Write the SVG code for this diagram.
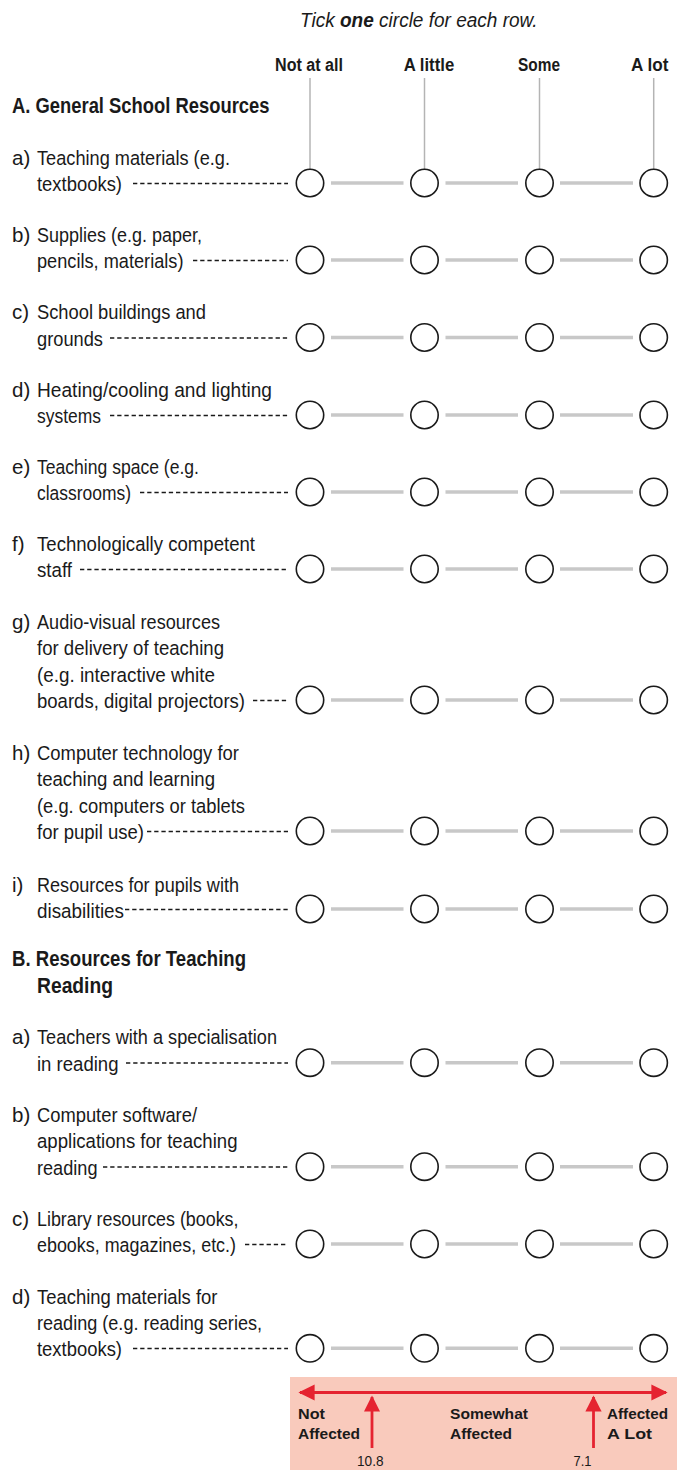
<svg xmlns="http://www.w3.org/2000/svg" width="677" height="1470" viewBox="0 0 677 1470">
<style>
text{font-family:"Liberation Sans",Arial,sans-serif;fill:#1a1a1a}
.t{font-size:20.5px}
.h{font-size:22.5px;font-weight:bold}
.col{font-size:17.5px;font-weight:bold}
.ttl{font-size:19.5px;font-style:italic}
.c{fill:#fff;stroke:#1a1a1a;stroke-width:1.6}
.g{stroke:#c8c8c8;stroke-width:3.5}
.v{stroke:#b4b4b4;stroke-width:1.5}
.d{stroke:#1a1a1a;stroke-width:1.5;stroke-dasharray:4.3 2.9}
.red{stroke:#e52330;stroke-width:2.8;fill:none}
.lab{font-size:15px;font-weight:bold}
.num{font-size:14.5px}
</style>
<defs>
<marker id="ah" viewBox="0 0 10 10" refX="9" refY="5" markerWidth="5.8" markerHeight="5.8" orient="auto-start-reverse" markerUnits="strokeWidth">
<path d="M0,0 L10,5 L0,10 Z" fill="#e52330"/>
</marker>
<g id="scale">
<line class="g" x1="331" y1="0" x2="403.5" y2="0"/>
<line class="g" x1="445.5" y1="0" x2="518" y2="0"/>
<line class="g" x1="560" y1="0" x2="633" y2="0"/>
<circle class="c" cx="310" cy="0" r="13.7"/>
<circle class="c" cx="424.5" cy="0" r="13.7"/>
<circle class="c" cx="539.5" cy="0" r="13.7"/>
<circle class="c" cx="653.7" cy="0" r="13.7"/>
</g>
</defs>

<g id="header">
<text class="ttl" x="300" y="27" textLength="237.6" lengthAdjust="spacingAndGlyphs">Tick <tspan font-weight="bold">one</tspan> circle for each row.</text>
<text class="col" x="275" y="71" textLength="68" lengthAdjust="spacingAndGlyphs">Not at all</text>
<text class="col" x="403.7" y="71" textLength="50.5" lengthAdjust="spacingAndGlyphs">A little</text>
<text class="col" x="518" y="71" textLength="42" lengthAdjust="spacingAndGlyphs">Some</text>
<text class="col" x="631" y="71" textLength="37.4" lengthAdjust="spacingAndGlyphs">A lot</text>
<line class="v" x1="310" y1="78" x2="310" y2="169"/>
<line class="v" x1="424.5" y1="78" x2="424.5" y2="169"/>
<line class="v" x1="539.5" y1="78" x2="539.5" y2="169"/>
<line class="v" x1="653.7" y1="78" x2="653.7" y2="169"/>
</g>

<g id="sectionA"><text class="h" x="12" y="112.5" textLength="257.5" lengthAdjust="spacingAndGlyphs">A. General School Resources</text></g>

<g id="rowA-a">
<text class="t" x="12" y="164.7">a)</text>
<text class="t" x="37" y="164.7" textLength="193" lengthAdjust="spacingAndGlyphs">Teaching materials (e.g.</text>
<text class="t" x="37" y="191" textLength="85" lengthAdjust="spacingAndGlyphs">textbooks)</text>
<line class="d" x1="133" y1="183.5" x2="288" y2="183.5"/>
<use href="#scale" y="183"/>
</g>
<g id="rowA-b">
<text class="t" x="12" y="241.7">b)</text>
<text class="t" x="37" y="241.7" textLength="165" lengthAdjust="spacingAndGlyphs">Supplies (e.g. paper,</text>
<text class="t" x="37" y="268" textLength="146.5" lengthAdjust="spacingAndGlyphs">pencils, materials)</text>
<line class="d" x1="193" y1="260.5" x2="288" y2="260.5"/>
<use href="#scale" y="260"/>
</g>
<g id="rowA-c">
<text class="t" x="12" y="319.2">c)</text>
<text class="t" x="37" y="319.2" textLength="169" lengthAdjust="spacingAndGlyphs">School buildings and</text>
<text class="t" x="37" y="345.5" textLength="66" lengthAdjust="spacingAndGlyphs">grounds</text>
<line class="d" x1="110" y1="338" x2="288" y2="338"/>
<use href="#scale" y="337.5"/>
</g>
<g id="rowA-d">
<text class="t" x="12" y="396.7">d)</text>
<text class="t" x="37" y="396.7" textLength="235" lengthAdjust="spacingAndGlyphs">Heating/cooling and lighting</text>
<text class="t" x="37" y="423" textLength="64" lengthAdjust="spacingAndGlyphs">systems</text>
<line class="d" x1="110" y1="415.5" x2="288" y2="415.5"/>
<use href="#scale" y="415"/>
</g>
<g id="rowA-e">
<text class="t" x="12" y="473.7">e)</text>
<text class="t" x="37" y="473.7" textLength="162" lengthAdjust="spacingAndGlyphs">Teaching space (e.g.</text>
<text class="t" x="37" y="500" textLength="94" lengthAdjust="spacingAndGlyphs">classrooms)</text>
<line class="d" x1="140" y1="492.5" x2="288" y2="492.5"/>
<use href="#scale" y="492"/>
</g>
<g id="rowA-f">
<text class="t" x="12" y="550.7">f)</text>
<text class="t" x="37" y="550.7" textLength="218" lengthAdjust="spacingAndGlyphs">Technologically competent</text>
<text class="t" x="37" y="577" textLength="35" lengthAdjust="spacingAndGlyphs">staff</text>
<line class="d" x1="80" y1="569.5" x2="288" y2="569.5"/>
<use href="#scale" y="569"/>
</g>
<g id="rowA-g">
<text class="t" x="12" y="628.5">g)</text>
<text class="t" x="37" y="628.5" textLength="183" lengthAdjust="spacingAndGlyphs">Audio-visual resources</text>
<text class="t" x="37" y="655" textLength="187" lengthAdjust="spacingAndGlyphs">for delivery of teaching</text>
<text class="t" x="37" y="681.5" textLength="178" lengthAdjust="spacingAndGlyphs">(e.g. interactive white</text>
<text class="t" x="37" y="708" textLength="208" lengthAdjust="spacingAndGlyphs">boards, digital projectors)</text>
<line class="d" x1="253" y1="700.5" x2="288" y2="700.5"/>
<use href="#scale" y="700"/>
</g>
<g id="rowA-h">
<text class="t" x="12" y="759.5">h)</text>
<text class="t" x="37" y="759.5" textLength="202" lengthAdjust="spacingAndGlyphs">Computer technology for</text>
<text class="t" x="37" y="786" textLength="178" lengthAdjust="spacingAndGlyphs">teaching and learning</text>
<text class="t" x="37" y="812.5" textLength="208" lengthAdjust="spacingAndGlyphs">(e.g. computers or tablets</text>
<text class="t" x="37" y="839" textLength="107" lengthAdjust="spacingAndGlyphs">for pupil use)</text>
<line class="d" x1="147" y1="831.5" x2="288" y2="831.5"/>
<use href="#scale" y="831"/>
</g>
<g id="rowA-i">
<text class="t" x="12" y="891.7">i)</text>
<text class="t" x="37" y="891.7" textLength="202" lengthAdjust="spacingAndGlyphs">Resources for pupils with</text>
<text class="t" x="37" y="918" textLength="87" lengthAdjust="spacingAndGlyphs">disabilities</text>
<line class="d" x1="125" y1="909.5" x2="288" y2="909.5"/>
<use href="#scale" y="909"/>
</g>

<g id="sectionB">
<text class="h" x="12" y="966" textLength="234" lengthAdjust="spacingAndGlyphs">B. Resources for Teaching</text>
<text class="h" x="37" y="993" textLength="76" lengthAdjust="spacingAndGlyphs">Reading</text>
</g>

<g id="rowB-a">
<text class="t" x="12" y="1044.4">a)</text>
<text class="t" x="37" y="1044.4" textLength="240" lengthAdjust="spacingAndGlyphs">Teachers with a specialisation</text>
<text class="t" x="37" y="1070.7" textLength="81.5" lengthAdjust="spacingAndGlyphs">in reading</text>
<line class="d" x1="126" y1="1063" x2="288" y2="1063"/>
<use href="#scale" y="1062.7"/>
</g>
<g id="rowB-b">
<text class="t" x="12" y="1122">b)</text>
<text class="t" x="37" y="1122" textLength="160" lengthAdjust="spacingAndGlyphs">Computer software/</text>
<text class="t" x="37" y="1148.3" textLength="200.5" lengthAdjust="spacingAndGlyphs">applications for teaching</text>
<text class="t" x="37" y="1174.7" textLength="60.5" lengthAdjust="spacingAndGlyphs">reading</text>
<line class="d" x1="103" y1="1167" x2="288" y2="1167"/>
<use href="#scale" y="1166.7"/>
</g>
<g id="rowB-c">
<text class="t" x="12" y="1225.7">c)</text>
<text class="t" x="37" y="1225.7" textLength="201.5" lengthAdjust="spacingAndGlyphs">Library resources (books,</text>
<text class="t" x="37" y="1252" textLength="199" lengthAdjust="spacingAndGlyphs">ebooks, magazines, etc.)</text>
<line class="d" x1="245" y1="1244.5" x2="288" y2="1244.5"/>
<use href="#scale" y="1244"/>
</g>
<g id="rowB-d">
<text class="t" x="12" y="1303.7">d)</text>
<text class="t" x="37" y="1303.7" textLength="180.5" lengthAdjust="spacingAndGlyphs">Teaching materials for</text>
<text class="t" x="37" y="1330" textLength="225" lengthAdjust="spacingAndGlyphs">reading (e.g. reading series,</text>
<text class="t" x="37" y="1356.3" textLength="85" lengthAdjust="spacingAndGlyphs">textbooks)</text>
<line class="d" x1="133" y1="1348.5" x2="288" y2="1348.5"/>
<use href="#scale" y="1348.3"/>
</g>

<g id="legend">
<rect x="290" y="1377" width="387" height="93" fill="#f9cabc"/>
<line class="red" x1="300" y1="1392.5" x2="666" y2="1392.5" marker-start="url(#ah)" marker-end="url(#ah)"/>
<line class="red" x1="372" y1="1448" x2="372" y2="1397" marker-end="url(#ah)"/>
<line class="red" x1="593.5" y1="1448" x2="593.5" y2="1397" marker-end="url(#ah)"/>
<text class="lab" x="298" y="1419" textLength="27" lengthAdjust="spacingAndGlyphs">Not</text>
<text class="lab" x="298" y="1439" textLength="62" lengthAdjust="spacingAndGlyphs">Affected</text>
<text class="lab" x="450" y="1419" textLength="78" lengthAdjust="spacingAndGlyphs">Somewhat</text>
<text class="lab" x="450" y="1439" textLength="62" lengthAdjust="spacingAndGlyphs">Affected</text>
<text class="lab" x="607" y="1419" textLength="61" lengthAdjust="spacingAndGlyphs">Affected</text>
<text class="lab" x="607" y="1439" textLength="45" lengthAdjust="spacingAndGlyphs">A Lot</text>
<text class="num" x="357" y="1466" textLength="26.5" lengthAdjust="spacingAndGlyphs">10.8</text>
<text class="num" x="573.5" y="1466" textLength="18" lengthAdjust="spacingAndGlyphs">7.1</text>
</g>
</svg>
